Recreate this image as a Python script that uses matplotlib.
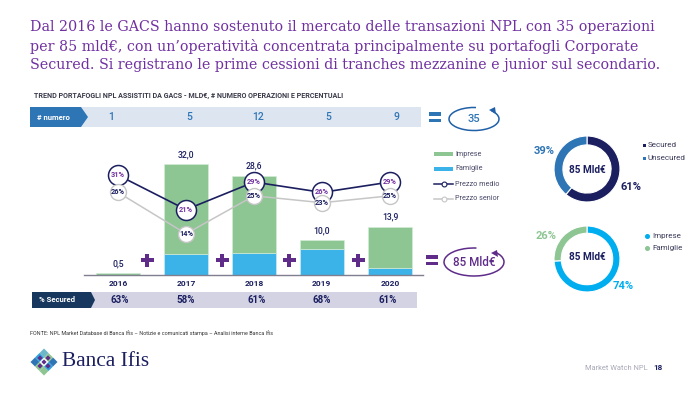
import matplotlib
matplotlib.use('Agg')
import matplotlib.pyplot as plt
from matplotlib.patches import Rectangle, Polygon, Arc

plt.rcParams['font.family'] = ['Roboto', 'DejaVu Sans']

anni = ['2016', '2017', '2018', '2019', '2020']
famiglie = [0.0, 6.0, 6.3, 7.5, 2.0]
imprese = [0.5, 26.0, 22.3, 2.5, 11.9]
totali = ['0,5', '32,0', '28,6', '10,0', '13,9']
prezzo_medio = [31, 21, 29, 26, 29]
prezzo_senior = [26, 14, 25, 23, 25]
numero = ['1', '5', '12', '5', '9']
secured = ['63%', '58%', '61%', '68%', '61%']
donut_1 = [61, 39]
donut_2 = [74, 26]

titolo = ['Dal 2016 le GACS hanno sostenuto il mercato delle transazioni NPL con 35 operazioni',
          'per 85 mld€, con un’operatività concentrata principalmente su portafogli Corporate',
          'Secured. Si registrano le prime cessioni di tranches mezzanine e junior sul secondario.']

NAVY = '#1b1f5f'
PURPLE = '#5f2c8a'
BLUE = '#2e75b6'
GREEN = '#8dc593'
CYAN = '#3bb2e8'

fig = plt.figure(figsize=(7, 4), dpi=100)


def box(x0, y0, x1, y1):
    return fig.add_axes([x0 / 700, 1 - y1 / 400, (x1 - x0) / 700, (y1 - y0) / 400])


# sfondo in pixel
bg = fig.add_axes([0, 0, 1, 1])
bg.set_xlim(0, 700)
bg.set_ylim(400, 0)
bg.axis('off')

for i, riga in enumerate(titolo):
    bg.text(30, [27, 47, 65][i], riga, family='DejaVu Serif', fontsize=10.3,
            color='#7030a0', va='center')
bg.text(34, 96, 'TREND PORTAFOGLI NPL ASSISTITI DA GACS - MLD€, # NUMERO OPERAZIONI E PERCENTUALI',
        fontsize=5.1, fontweight='bold', color='#3a3a4a', va='center')

# fascia numero
bg.add_patch(Rectangle((30, 107), 391, 20, color='#dde6f0', lw=0))
bg.add_patch(Polygon([(30, 107), (81, 107), (88, 117), (81, 127), (30, 127)], color=BLUE, lw=0))
bg.text(37, 117, '# numero', color='white', fontsize=5.6, fontweight='bold', va='center')
for x, t in zip([111, 189, 258, 328, 396], numero):
    bg.text(x, 117, t, color=BLUE, fontsize=7.5, fontweight='medium', ha='center', va='center')


def uguale(x, y, c):
    bg.add_patch(Rectangle((x - 6, y - 5), 12, 3.5, color=c, lw=0))
    bg.add_patch(Rectangle((x - 6, y + 1.5), 12, 3.5, color=c, lw=0))


def anello(x, y, w, h, c, testa):
    bg.add_patch(Arc((x, y), w, h, theta1=-25, theta2=280, color=c, lw=1.1))
    hx, hy = testa
    bg.add_patch(Polygon([(hx - 4, hy - 1), (hx + 2, hy - 4), (hx + 3, hy + 3)], color=c, lw=0))


uguale(435, 117, BLUE)
anello(474, 119, 50, 23, '#2060a8', (493, 111))
bg.text(474, 119, '35', color=BLUE, fontsize=8, fontweight='medium', ha='center', va='center')

uguale(432, 260, PURPLE)
anello(474, 262, 60, 28, PURPLE, (495, 254))
bg.text(474, 262, '85 Mld€', color=PURPLE, fontsize=8.4, fontweight='medium', ha='center', va='center')

# fascia % secured
bg.add_patch(Rectangle((32, 292), 385, 16, color='#d3d3e3', lw=0))
bg.add_patch(Polygon([(32, 292), (91, 292), (95, 300), (91, 308), (32, 308)], color='#17375e', lw=0))
bg.text(39, 300, '% Secured', color='white', fontsize=5.6, fontweight='bold', va='center')
for x, t in zip([120, 186, 257, 322, 388], secured):
    bg.text(x, 300, t, color=NAVY, fontsize=7, fontweight='bold', ha='center', va='center')
for x, t in zip([118, 186, 254, 321, 390], anni):
    bg.text(x, 284, t, color=NAVY, fontsize=6, fontweight='bold', ha='center', va='center')

for x in [147, 222, 289, 358]:
    bg.add_patch(Rectangle((x - 6.5, 258), 13, 4, color=PURPLE, lw=0))
    bg.add_patch(Rectangle((x - 2, 253.5), 4, 13, color=PURPLE, lw=0))

# barre
ax = box(84, 140, 423, 275)
pos = list(range(len(anni)))
ax.bar(pos, famiglie, width=0.64, color=CYAN, edgecolor='#d8eef8', linewidth=0.4)
ax.bar(pos, imprese, width=0.64, bottom=famiglie, color=GREEN, edgecolor='#d8eedb', linewidth=0.4)
for i, t in enumerate(totali):
    ax.annotate(t, (i, famiglie[i] + imprese[i]), xytext=(0, 3.5), textcoords='offset points',
                ha='center', va='bottom', color=NAVY, fontsize=6.2, fontweight='medium')
ax.set_xlim(-0.5, 4.485)
ax.set_ylim(0, 38.9)
ax.patch.set_alpha(0)
for s in ['top', 'left', 'right']:
    ax.spines[s].set_visible(False)
ax.spines['bottom'].set_color('#7f7f8f')
ax.spines['bottom'].set_linewidth(1)
ax.set_xticks([])
ax.set_yticks([])

# prezzi
ax2 = ax.twinx()
ax2.set_ylim(2.03, 41.2)
ax2.axis('off')
ax2.plot(pos, prezzo_medio, color=NAVY, lw=1.2, marker='o', ms=14.4, mfc='white',
         mec=NAVY, mew=1.1, zorder=2)
ax2.plot(pos, prezzo_senior, color='#c6c6c6', lw=1.1, zorder=1)
ax2.plot(pos, prezzo_senior, ls='none', marker='o', ms=11.5, mfc='white',
         mec='#c6c6c6', mew=1, zorder=3)
for i in pos:
    ax2.text(i, prezzo_senior[i], f'{prezzo_senior[i]}%', color=NAVY, fontsize=5.3, fontweight='bold',
             ha='center', va='center', zorder=4)
    ax2.text(i, prezzo_medio[i], f'{prezzo_medio[i]}%', color='#7030a0', fontsize=5.3, fontweight='bold',
             ha='center', va='center', zorder=5)

# legenda barre
bg.add_patch(Rectangle((434, 152), 19, 3.5, color=GREEN, lw=0))
bg.add_patch(Rectangle((434, 167), 19, 3.5, color=CYAN, lw=0))
bg.plot([434, 453], [184, 184], color=NAVY, lw=1.1)
bg.plot([443.5], [184], marker='o', ms=3.5, mfc='white', mec=NAVY, mew=0.8)
bg.plot([434, 453], [199, 199], color='#c6c6c6', lw=1.1)
bg.plot([443.5], [199], marker='o', ms=3.5, mfc='white', mec='#c6c6c6', mew=0.8)
for y, t in zip([154, 169, 184, 199], ['Imprese', 'Famiglie', 'Prezzo medio', 'Prezzo senior']):
    bg.text(455, y, t, color='#4a4a6a', fontsize=5.2, va='center')


def ciambella(valori, colori, cy, spessore):
    a = box(587 - 33, cy - 33, 587 + 33, cy + 33)
    a.pie(valori, colors=colori, startangle=90, counterclock=False, radius=1,
          wedgeprops=dict(width=spessore, edgecolor='white', linewidth=0.8))
    a.set_xlim(-1, 1)
    a.set_ylim(-1, 1)


ciambella(donut_1, [NAVY, BLUE], 169, 0.27)
ciambella(donut_2, ['#00aeef', GREEN], 259, 0.22)
bg.text(587, 170, '85 Mld€', color=NAVY, fontsize=7.2, fontweight='bold', ha='center', va='center')
bg.text(587, 257, '85 Mld€', color=NAVY, fontsize=7.2, fontweight='bold', ha='center', va='center')
bg.text(544, 151, f'{donut_1[1]}%', color=BLUE, fontsize=8, fontweight='bold', ha='center', va='center')
bg.text(631, 187, f'{donut_1[0]}%', color=NAVY, fontsize=8, fontweight='bold', ha='center', va='center')
bg.text(546, 236, f'{donut_2[1]}%', color=GREEN, fontsize=8, fontweight='bold', ha='center', va='center')
bg.text(623, 286, f'{donut_2[0]}%', color='#00aeef', fontsize=8, fontweight='bold', ha='center', va='center')

bg.add_patch(Rectangle((642.5, 143.5), 3, 3, color=NAVY, lw=0))
bg.add_patch(Rectangle((642.5, 156.5), 3, 3, color=BLUE, lw=0))
bg.text(648, 145, 'Secured', color='#3a3a5a', fontsize=5.8, va='center')
bg.text(648, 158, 'Unsecured', color='#3a3a5a', fontsize=5.8, va='center')
bg.plot([647], [236], 'o', ms=2.6, color='#00aeef')
bg.plot([647], [248], 'o', ms=2.6, color=GREEN)
bg.text(652, 236, 'Imprese', color='#3a3a5a', fontsize=5.8, va='center')
bg.text(652, 248, 'Famiglie', color='#3a3a5a', fontsize=5.8, va='center')

# piede
bg.text(30, 333, 'FONTE: NPL Market Database di Banca Ifis – Notizie e comunicati stampa – Analisi interne Banca Ifis',
        fontsize=3.9, color='#333333', va='center')
for (cx, cy, c) in [(44, 353, '#6db7c9'), (35, 362, '#2e75b6'), (53, 362, '#2e75b6'), (44, 371, '#8dc593'),
                    (39.5, 357.5, '#2e9fd8'), (48.5, 357.5, '#8dc593'), (39.5, 366.5, '#8dc593'), (48.5, 366.5, '#2e9fd8')]:
    bg.add_patch(Polygon([(cx, cy - 4.5), (cx + 4.5, cy), (cx, cy + 4.5), (cx - 4.5, cy)], color=c, lw=0))
for (cx, cy) in [(44, 362), (40, 358), (48, 366), (40, 366), (48, 358)]:
    bg.add_patch(Polygon([(cx, cy - 2.6), (cx + 2.6, cy), (cx, cy + 2.6), (cx - 2.6, cy)], color=PURPLE, lw=0))
bg.text(62, 362, 'Banca Ifis', family='Liberation Serif', fontsize=15.4, color=NAVY, va='center')
bg.text(585, 368, 'Market Watch NPL', fontsize=5.4, color='#a8a8b8', va='center')
bg.text(653, 368, '18', fontsize=5.8, fontweight='bold', color=NAVY, va='center')

fig.savefig('out.png', dpi=100)
